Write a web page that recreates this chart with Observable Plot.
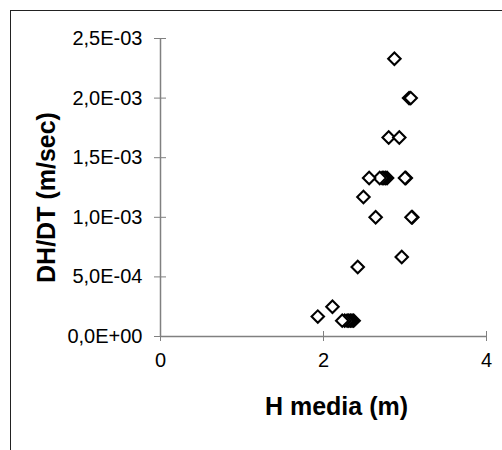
<!DOCTYPE html>
<html><head><meta charset="utf-8">
<script src="https://cdn.jsdelivr.net/npm/d3@7"></script>
<script src="https://cdn.jsdelivr.net/npm/@observablehq/plot@0.6"></script>
<style>
html,body{margin:0;padding:0;background:#fff;}
#wrap{position:relative;width:502px;height:450px;overflow:hidden;}
#wrap svg{display:block;}
#frame{position:absolute;left:10px;top:10px;right:-5px;bottom:-5px;border-left:1px solid #222;border-top:1px solid #222;pointer-events:none;}
</style></head><body>
<div id="wrap"><div id="frame"></div></div>
<script>
// Data (H media in m, DH/DT in m/sec)
const hMedia = [2.87, 3.05, 3.07, 2.80, 2.93, 3.01, 3.00, 2.78, 2.76, 2.74, 2.72, 2.69, 2.56, 2.49, 2.64, 3.09, 3.08, 2.96, 2.42, 1.93, 2.11, 2.37, 2.35, 2.33, 2.31, 2.29, 2.26, 2.23];
const dhdt   = [2.33e-3, 2.0e-3, 2.0e-3, 1.67e-3, 1.67e-3, 1.33e-3, 1.33e-3, 1.33e-3, 1.33e-3, 1.33e-3, 1.33e-3, 1.33e-3, 1.33e-3, 1.17e-3, 1.0e-3, 1.0e-3, 1.0e-3, 6.67e-4, 5.83e-4, 1.67e-4, 2.5e-4, 1.33e-4, 1.33e-4, 1.33e-4, 1.33e-4, 1.33e-4, 1.33e-4, 1.33e-4];
const xTicks = [0, 2, 4];
const yTicks = [0, 0.0005, 0.001, 0.0015, 0.002, 0.0025];
const xTitle = "H media (m)";
const yTitle = "DH/DT (m/sec)";

const fmtY = d => d.toExponential(1).replace(".", ",")
  .replace(/e([+-])(\d+)$/, (m, s, e) => "E" + s + e.padStart(2, "0"));
const points = hMedia.map((h, i) => ({h, v: dhdt[i]}));

const chart = Plot.plot({
  width: 502, height: 450,
  marginLeft: 160, marginRight: 16, marginTop: 38, marginBottom: 114,
  style: {fontFamily: "'Liberation Sans', Arial, sans-serif", background: "transparent", color: "#000"},
  x: {domain: [0, 4], axis: null},
  y: {domain: [0, 0.0025], axis: null},
  marks: [
    Plot.ruleY([0], {stroke: "#808080", strokeWidth: 1.5}),
    Plot.ruleX([0], {stroke: "#808080", strokeWidth: 1.5}),
    Plot.axisY(yTicks, {tickSize: 12, dx: 6, tickPadding: 12, tickFormat: fmtY, fontSize: 20,
      stroke: "#808080", fill: "#000", label: null}),
    Plot.axisX(xTicks, {tickSize: 10, dy: -5, tickPadding: 11.5, fontSize: 20,
      stroke: "#808080", fill: "#000", label: null}),
    Plot.dot(points, {x: "h", y: "v", symbol: "diamond2", r: 5.6, stroke: "#000", strokeWidth: 2.1, fill: "#fff"}),
    Plot.text([xTitle], {text: d => d, frameAnchor: "bottom", dx: 13, dy: 70, fontSize: 25, fontWeight: "bold", lineAnchor: "middle"}),
    Plot.text([yTitle], {text: d => d, frameAnchor: "left", rotate: -90, dx: -113.5, dy: 10, fontSize: 25, fontWeight: "bold", textAnchor: "middle", lineAnchor: "middle"})
  ]
});
document.getElementById("wrap").insertBefore(chart, document.getElementById("frame"));
</script>
</body></html>
